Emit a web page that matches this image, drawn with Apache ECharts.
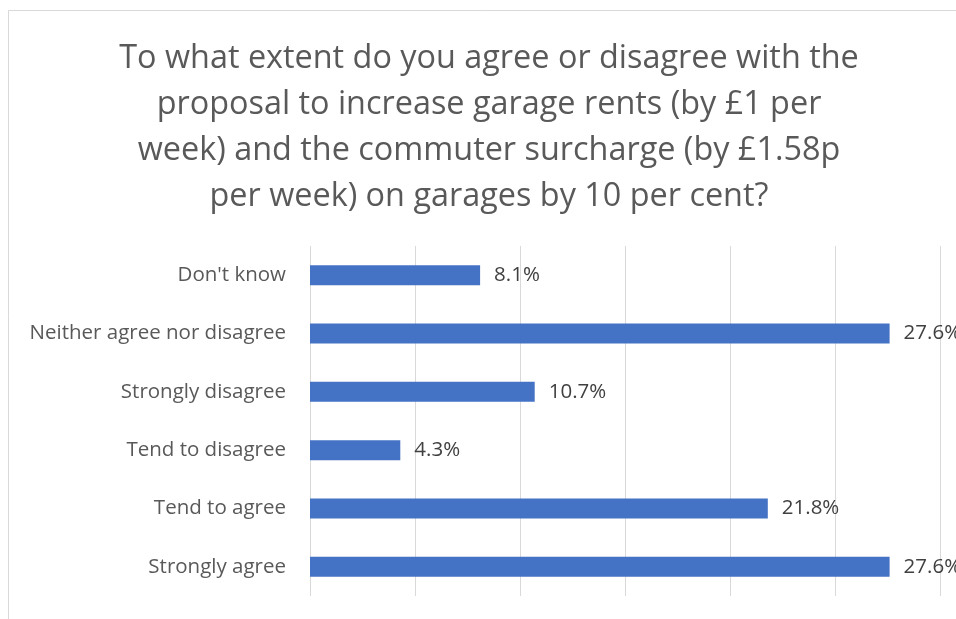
<!DOCTYPE html>
<html><head><meta charset="utf-8">
<script src="https://cdn.jsdelivr.net/npm/echarts@6/dist/echarts.min.js"></script>
<style>html,body{margin:0;padding:0;background:#fff;}#c{width:956px;height:619px;}</style>
</head><body><div id="c"></div>
<script>
const categories = ["Strongly agree","Tend to agree","Tend to disagree","Strongly disagree","Neither agree nor disagree","Don't know"];
const values = [27.6, 21.8, 4.3, 10.7, 27.6, 8.1];
const titleLines = ["To what extent do you agree or disagree with the","proposal to increase garage rents (by £1 per","week) and the commuter surcharge (by £1.58p","per week) on garages by 10 per cent?"];

const chart = echarts.init(document.getElementById('c'));
chart.setOption({
  animation:false,
  graphic:[{type:'rect',shape:{x:8.5,y:10.5,width:1000,height:700},style:{fill:'none',stroke:'#d9d9d9',lineWidth:1}}],
  title:{text:titleLines.join('\n'),left:484,top:31,textAlign:'center',
    textStyle:{fontFamily:'Open Sans',fontSize:32.4,fontWeight:'normal',color:'#595959',lineHeight:46}},
  grid:{left:310,right:16,top:246,bottom:23,containLabel:false},
  xAxis:{type:'value',min:0,max:30,interval:5,axisLabel:{show:false},axisLine:{show:false},axisTick:{show:false},
    splitLine:{lineStyle:{color:'#d9d9d9',width:1}}},
  yAxis:{type:'category',data:categories,axisTick:{show:false},axisLine:{show:false},
    axisLabel:{fontFamily:'Open Sans',fontSize:20.5,color:'#595959',margin:24}},
  series:[{type:'bar',data:values,barWidth:20,itemStyle:{color:'#4472c4'},
    label:{show:true,position:'right',distance:14,formatter:p=>p.value.toFixed(1)+'%',fontFamily:'Open Sans',fontSize:20.5,color:'#404040'}}]
});
</script></body></html>
